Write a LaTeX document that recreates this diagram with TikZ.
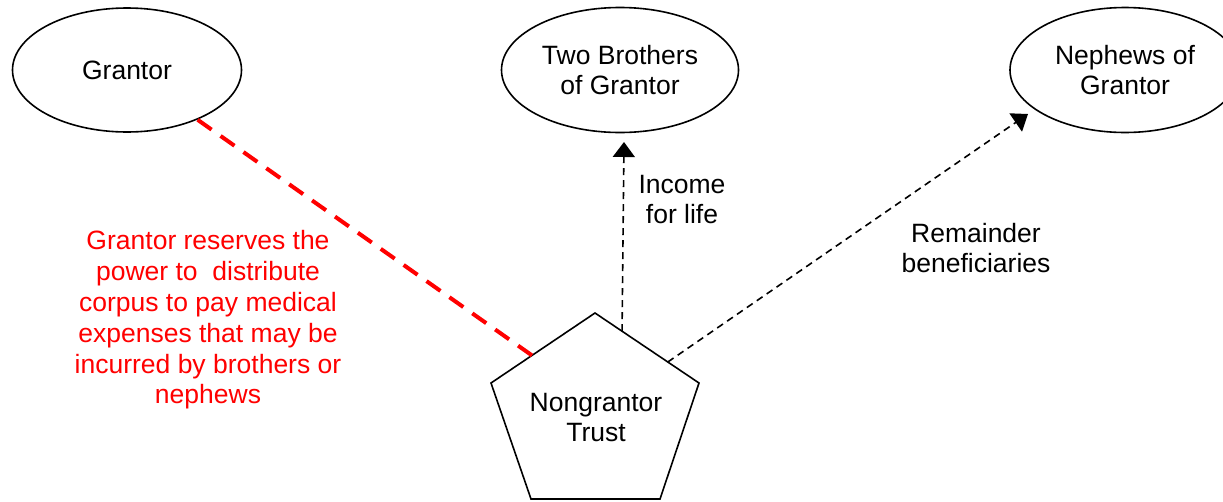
\documentclass[tikz,border=0pt]{standalone}
\usepackage{fontspec}
\setmainfont{Liberation Sans}
\usetikzlibrary{shapes.geometric,arrows.meta,calc}
\begin{document}
\begin{tikzpicture}[x=1pt,y=-1pt,
  lbl/.style={align=center,inner sep=0pt,font=\fontsize{26.5}{30}\selectfont},
  oval/.style={ellipse,draw=black,line width=1.6pt,inner sep=0pt,lbl},
  blkdash/.style={draw=black,line width=1.6pt,dash pattern=on 7pt off 5pt},
  tip/.style={-{Triangle[length=15pt,width=22pt]}},
  reddash/.style={draw=red,line width=4pt,dash pattern=on 17pt off 11pt}]
\useasboundingbox (0,0) rectangle (1223,501);
\clip (0,0) rectangle (1223,501);
% ellipses
\node[oval,minimum width=229pt,minimum height=124pt] (grantor) at (127,70) {Grantor};
\node[oval,minimum width=237pt,minimum height=125pt] (brothers) at (620,70) {Two Brothers\\of Grantor};
\node[oval,minimum width=230pt,minimum height=125pt] (nephews) at (1125,70) {Nephews of\\Grantor};
% pentagon
\coordinate (pt) at (595,313);
\coordinate (pl) at (491,383);
\coordinate (pr) at (699,383);
\coordinate (pbl) at (531,499);
\coordinate (pbr) at (660,499);
\draw[line width=1.6pt,line join=miter] (pt) -- (pr) -- (pbr) -- (pbl) -- (pl) -- cycle;
\node[lbl] (trust) at (596,418) {Nongrantor\\Trust};
% connector anchors on the pentagon
\coordinate (redstart) at ($(pt)!0.606!(pl)$);
\coordinate (brostart) at ($(pt)!0.26!(pr)$);
\coordinate (nepstart) at ($(pt)!0.70!(pr)$);
\coordinate (brotip) at (624,142);
\coordinate (neptip) at (1028,114);
% connectors
\draw[reddash,shorten >=-4pt] (redstart) -- (grantor);
\draw[blkdash,tip] (brostart) -- (brotip);
\draw[blkdash,tip] (nepstart) -- (neptip);
% labels
\node[lbl] (income) at (682,200) {Income\\for life};
\node[lbl] (remainder) at (976,248) {Remainder\\beneficiaries};
\node[lbl,text=red,font=\fontsize{26.5}{30.8}\selectfont] (power) at (208,320) {Grantor reserves the\\power to\ \ distribute\\corpus to pay medical\\expenses that may be\\incurred by brothers or\\nephews};
\end{tikzpicture}
\end{document}
